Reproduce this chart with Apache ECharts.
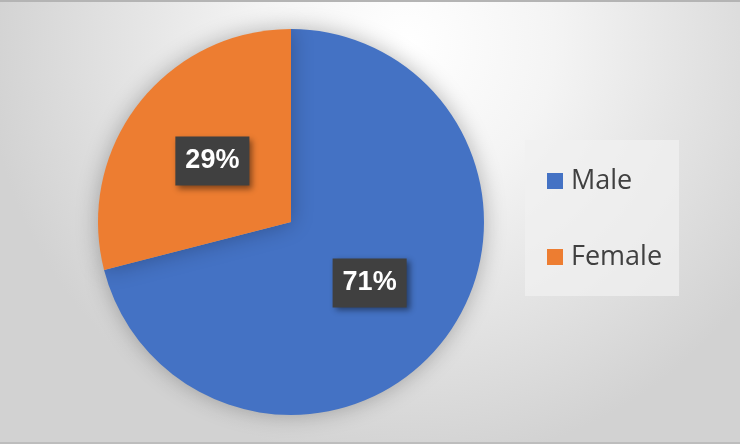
<!DOCTYPE html>
<html>
<head>
<meta charset="utf-8">
<script src="https://cdn.jsdelivr.net/npm/echarts@6/dist/echarts.min.js"></script>
<style>
html,body{margin:0;padding:0;background:#fff;}
#c{width:740px;height:444px;}
</style>
</head>
<body>
<div id="c"></div>
<script>
var categories = ['Male', 'Female'];
var values = [71, 29];
var colors = ['#4472C4', '#ED7D31'];

var chart = echarts.init(document.getElementById('c'));
var data = categories.map(function (n, i) {
  return { name: n, value: values[i], itemStyle: { color: colors[i] } };
});
chart.setOption({
  animation: false,
  backgroundColor: {
    type: 'radial', x: 0.55, y: 0.1, r: 0.95,
    colorStops: [
      { offset: 0, color: '#ffffff' },
      { offset: 0.35, color: '#f4f4f4' },
      { offset: 1, color: '#d2d2d2' }
    ]
  },
  graphic: [
    { type: 'rect', left: 0, top: 0, shape: { width: 740, height: 2 }, style: { fill: '#b4b4b4' } },
    { type: 'rect', left: 0, top: 442, shape: { width: 740, height: 2 }, style: { fill: '#bdbdbd' } }
  ],
  legend: {
    orient: 'vertical',
    left: 525,
    top: 140,
    padding: [27, 17, 25, 22],
    itemWidth: 16,
    itemHeight: 16,
    itemGap: 48,
    icon: 'rect',
    backgroundColor: 'rgba(240,240,240,0.75)',
    textStyle: { fontSize: 27, lineHeight: 28, color: '#404040', fontFamily: 'Open Sans', padding: [0, 0, 0, 3] },
    data: categories
  },
  series: [{
    type: 'pie',
    center: [291, 222],
    radius: [0, 193],
    startAngle: 90,
    clockwise: true,
    data: data,
    itemStyle: {
      shadowBlur: 22,
      shadowColor: 'rgba(0,0,0,0.28)'
    },
    label: {
      show: true,
      position: 'inside',
      formatter: '{d}%',
      color: '#ffffff',
      fontWeight: 'bold',
      fontSize: 27,
      fontFamily: 'Liberation Sans',
      backgroundColor: '#404040',
      padding: [12, 10, 10, 10],
      shadowBlur: 6,
      shadowColor: 'rgba(0,0,0,0.45)',
      shadowOffsetX: 3,
      shadowOffsetY: 3
    },
    labelLine: { show: false },
    emphasis: { disabled: true }
  }]
});
</script>
</body>
</html>
